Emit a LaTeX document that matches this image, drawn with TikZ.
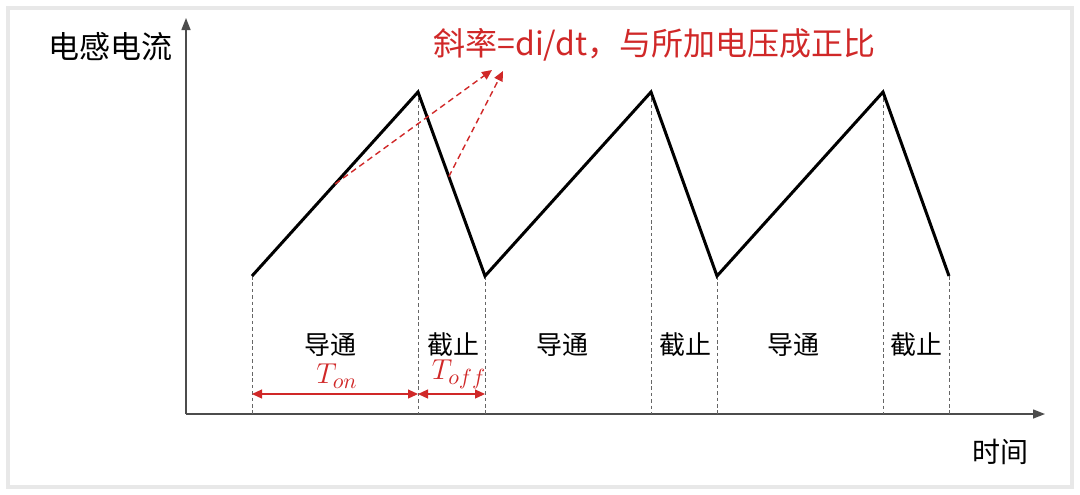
\documentclass[tikz,border=0pt]{standalone}
\usepackage{fontspec}
\usepackage{amsmath}
\usepackage{xcolor}
\usetikzlibrary{calc,arrows.meta}
\newfontfamily\cjk{Noto Sans CJK SC}
\definecolor{slopered}{RGB}{208,40,40}

\begin{document}
\begin{tikzpicture}[x=0.5pt,y=-0.5pt]
\tikzstyle{every node}+=[inner sep=0pt]
\tikzstyle{wave}=[black, line width=1.5pt, line join=miter]
\tikzstyle{guide}=[black!60, line width=0.4pt, dash pattern=on 1.8pt off 1.4pt]
\tikzstyle{axis}=[black!70, line width=0.7pt, -{Triangle[length=6pt,width=4.5pt]}]
\tikzstyle{slope}=[slopered, line width=0.7pt, dash pattern=on 3pt off 2pt, -{Triangle[length=5pt,width=4.5pt]}]
\tikzstyle{span}=[slopered, line width=0.6pt, {Triangle[length=5pt,width=4.5pt]}-{Triangle[length=5pt,width=4.5pt]}]
\tikzstyle{state}=[font=\cjk\fontsize{13}{13}\selectfont]
\useasboundingbox (0,0) rectangle (1080,494);
% card
\draw [black!9, line width=2pt] (8,8) rectangle (1072,487);
% axes
\coordinate (o) at (186,414);
\coordinate (ytop) at (186,18);
\coordinate (xend) at (1045,414);
\draw [axis] (o) -- (ytop);
\draw [axis] (o) -- (xend);
\node [font=\cjk\fontsize{15.5}{15.5}\selectfont] (ylabel) at (110,47) {电感电流};
\node [font=\cjk\fontsize{14}{14}\selectfont] (xlabel) at (1000,452) {时间};
% inductor current
\coordinate (v0) at (252,276);
\coordinate (p1) at (418,92);
\coordinate (v1) at (485,276);
\coordinate (p2) at (651,92);
\coordinate (v2) at (717,276);
\coordinate (p3) at (883,92);
\coordinate (v3) at (949,276);
\foreach \c in {v0,p1,v1,p2,v2,p3,v3}
  \draw [guide] (\c) -- (\c |- o);
\draw [wave] (v0) -- (p1) -- (v1) -- (p2) -- (v2) -- (p3) -- (v3);
% switch states
\node [state] (on1) at (330,345) {导通};
\node [state] (off1) at (453,345) {截止};
\node [state] (on2) at (562,345) {导通};
\node [state] (off2) at (685,345) {截止};
\node [state] (on3) at (793,345) {导通};
\node [state] (off3) at (916,345) {截止};
% slope note
\node [slopered, font=\cjk\fontsize{16}{16}\selectfont, anchor=west] (note) at (433,45) {斜率=di/dt，与所加电压成正比};
\coordinate (s1) at ($(v0)!0.5!(p1)$);
\coordinate (s2) at ($(p1)!0.46!(v1)$);
\coordinate (tip1) at (492,70);
\coordinate (tip2) at (503,71);
\draw [slope] (s1) -- (tip1);
\draw [slope] (s2) -- (tip2);
% on / off times
\coordinate (t0) at (252,394);
\coordinate (t1) at (418,394);
\coordinate (t2) at (485,394);
\draw [span] (t0) -- (t1);
\draw [span] (t1) -- (t2);
\node [slopered, font=\fontsize{15}{15}\selectfont] (ton) at (337,376) {$T_{on}$};
\node [slopered, font=\fontsize{15}{15}\selectfont] (toff) at (459,374) {$T_{off}$};
\end{tikzpicture}
\end{document}
